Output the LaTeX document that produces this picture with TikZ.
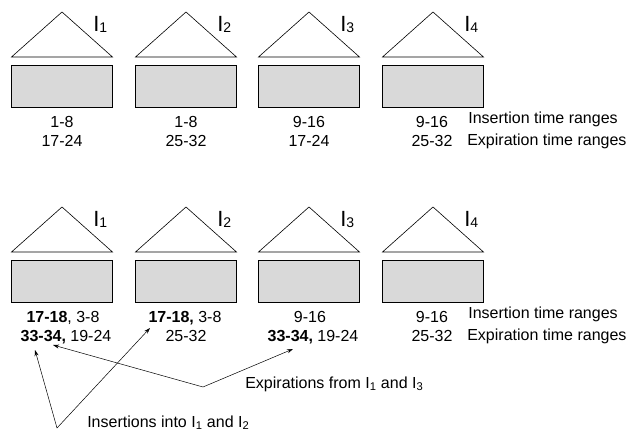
\documentclass[tikz,border=0pt]{standalone}
\usepackage{fontspec}
\setmainfont{Liberation Sans}
\usetikzlibrary{arrows.meta}
\definecolor{boxgray}{HTML}{D9D9D9}
\begin{document}
\begin{tikzpicture}[x=1pt,y=-1pt,
  line width=0.6pt,
  tree/.style={draw=black},
  leaf/.style={draw=black,fill=boxgray},
  txt/.style={font=\fontsize{16}{19}\selectfont,inner sep=0pt},
  num/.style={txt,anchor=base},
  lab/.style={txt,anchor=base west},
  idx/.style={inner sep=0pt,anchor=base west,font=\fontsize{22}{24}\selectfont},
  ptr/.style={-{Stealth[length=6pt,width=4pt]},line width=0.5pt}]
\useasboundingbox (0,0) rectangle (635,431);

% two snapshots of the four index trees, one above the other
\foreach \row/\dy in {a/0,b/195}{
  \foreach \i/\cx in {1/62,2/186,3/309,4/433}{
    \draw[tree] (\cx-50.5,57+\dy) -- (\cx,12+\dy) -- (\cx+50.5,57+\dy) -- cycle;
    \node[leaf,minimum width=101pt,minimum height=42pt,inner sep=0pt]
      (box\row\i) at (\cx,86+\dy) {};
    \node[idx] (name\row\i) at (\cx+31,31+\dy)
      {I\raisebox{-1.5pt}{\fontsize{14}{16}\selectfont\i}};
  }
  \node[lab] (ins\row) at (468,123+\dy) {Insertion time ranges};
  \node[lab] (exp\row) at (467,145+\dy) {Expiration time ranges};
}

% time ranges, initial state
\node[num] (a1i) at (62,127) {1-8};
\node[num] (a1e) at (62,146) {17-24};
\node[num] (a2i) at (186,127) {1-8};
\node[num] (a2e) at (186,146) {25-32};
\node[num] (a3i) at (309,127) {9-16};
\node[num] (a3e) at (309,146) {17-24};
\node[num] (a4i) at (432,127) {9-16};
\node[num] (a4e) at (432,146) {25-32};

% time ranges after the updates
\node[num] (b1i) at (63,322) {\textbf{17-18}, 3-8};
\node[num] (b1e) at (66,341) {\textbf{33-34,} 19-24};
\node[num] (b2i) at (185,322) {\textbf{17-18,} 3-8};
\node[num] (b2e) at (186,341) {25-32};
\node[num] (b3i) at (310,322) {9-16};
\node[num] (b3e) at (313,341) {\textbf{33-34,} 19-24};
\node[num] (b4i) at (432,322) {9-16};
\node[num] (b4e) at (432,341) {25-32};

% callouts
\node[lab] (expl) at (245,388) {Expirations from I\textsubscript{1} and I\textsubscript{3}};
\node[lab] (insl) at (87,427) {Insertions into I\textsubscript{1} and I\textsubscript{2}};

\coordinate (expv) at (203,387);
\coordinate (insv) at (57,428);
\coordinate (t1e) at (53,345);
\coordinate (t3e) at (293,349);
\coordinate (t1i) at (35,350);
\coordinate (t2i) at (150,328);

\draw[ptr] (expv) -- (t1e);
\draw[ptr] (expv) -- (t3e);
\draw[ptr] (insv) -- (t1i);
\draw[ptr] (insv) -- (t2i);
\end{tikzpicture}
\end{document}
